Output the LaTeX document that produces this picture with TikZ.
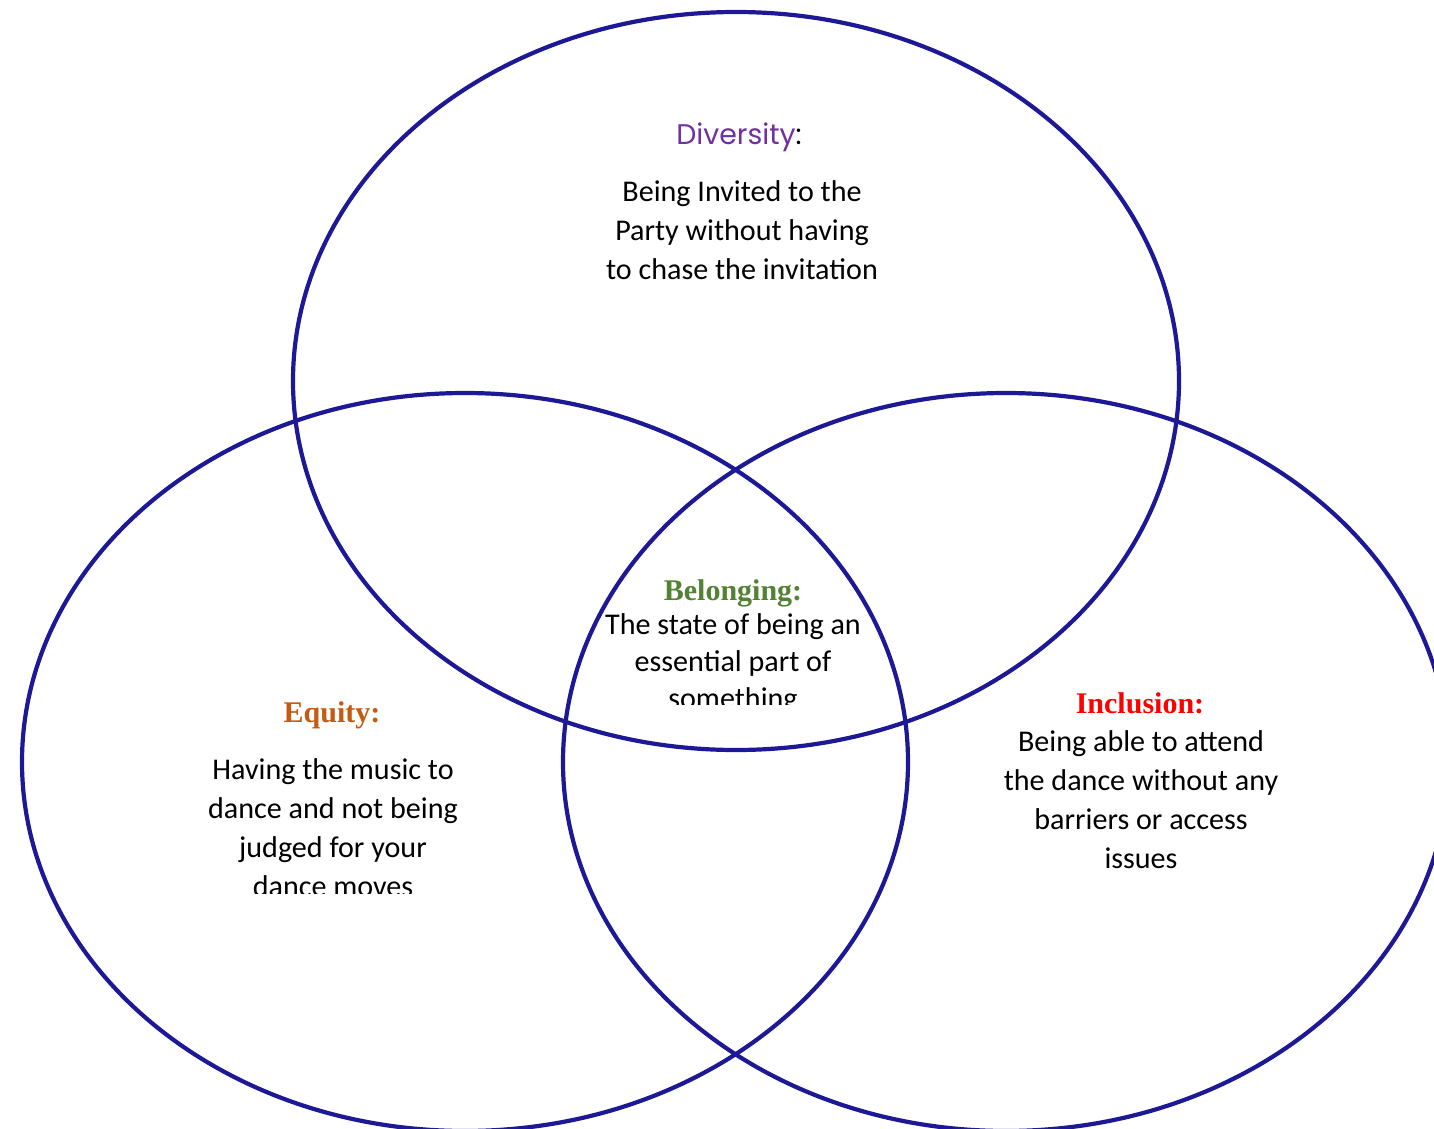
\documentclass[tikz,border=0pt]{standalone}
\usepackage{fontspec}
\setmainfont{Carlito}
\newfontfamily\headserif{Liberation Serif}
\newfontfamily\headsans{Poppins}
\definecolor{ringblue}{RGB}{28,24,150}
\definecolor{divpurple}{RGB}{112,48,160}
\definecolor{belgreen}{RGB}{84,130,53}
\definecolor{eqorange}{RGB}{197,90,17}
\definecolor{incred}{RGB}{255,0,0}
\tikzset{
  ring/.style={draw=ringblue, line width=2.1pt},
  bodytext/.style={inner sep=0pt, align=center, anchor=north,
    font=\fontsize{15.05}{19.6}\selectfont},
  headtext/.style={inner sep=0pt, anchor=base, font=\headserif\bfseries\fontsize{15}{17}\selectfont},
}
\begin{document}
\begin{tikzpicture}[x=0.5pt, y=-0.5pt]
  \useasboundingbox (0,0) rectangle (1434,1129);
  \fill[white] (0,0) rectangle (1434,1129);
  \clip (0,0) rectangle (1434,1129);

  % the three overlapping circles
  \draw[ring] (736,381) ellipse [x radius=443, y radius=369];
  \draw[ring] (465,762) ellipse [x radius=443, y radius=369];
  \draw[ring] (1006,762) ellipse [x radius=443, y radius=369];

  % Diversity (top)
  \node[inner sep=0pt, anchor=base, font=\headsans\fontsize{14.2}{16}\selectfont]
    (divhead) at (739,144) {\textcolor{divpurple}{Diversity}:};
  \node[bodytext] (divbody) at (742,180)
    {Being Invited to the\\Party without having\\to chase the invitation};

  % Belonging (centre)
  \node[headtext, text=belgreen] (belhead) at (733,600) {Belonging:};
  \begin{scope}
    \clip (560,600) rectangle (910,704);
    \node[bodytext, font=\fontsize{15.05}{18.6}\selectfont] (belbody) at (733,613)
      {The state of being an\\essential part of\\something};
  \end{scope}

  % Equity (left)
  \node[headtext, text=eqorange] (eqhead) at (332,722) {Equity:};
  \begin{scope}
    \clip (150,740) rectangle (520,893);
    \node[bodytext] (eqbody) at (333,758)
      {Having the music to\\dance and not being\\judged for your\\dance moves};
  \end{scope}

  % Inclusion (right)
  \node[headtext, text=incred] (inchead) at (1140,713) {Inclusion:};
  \node[bodytext] (incbody) at (1141,730)
    {Being able to attend\\the dance without any\\barriers or access\\issues};
\end{tikzpicture}
\end{document}
